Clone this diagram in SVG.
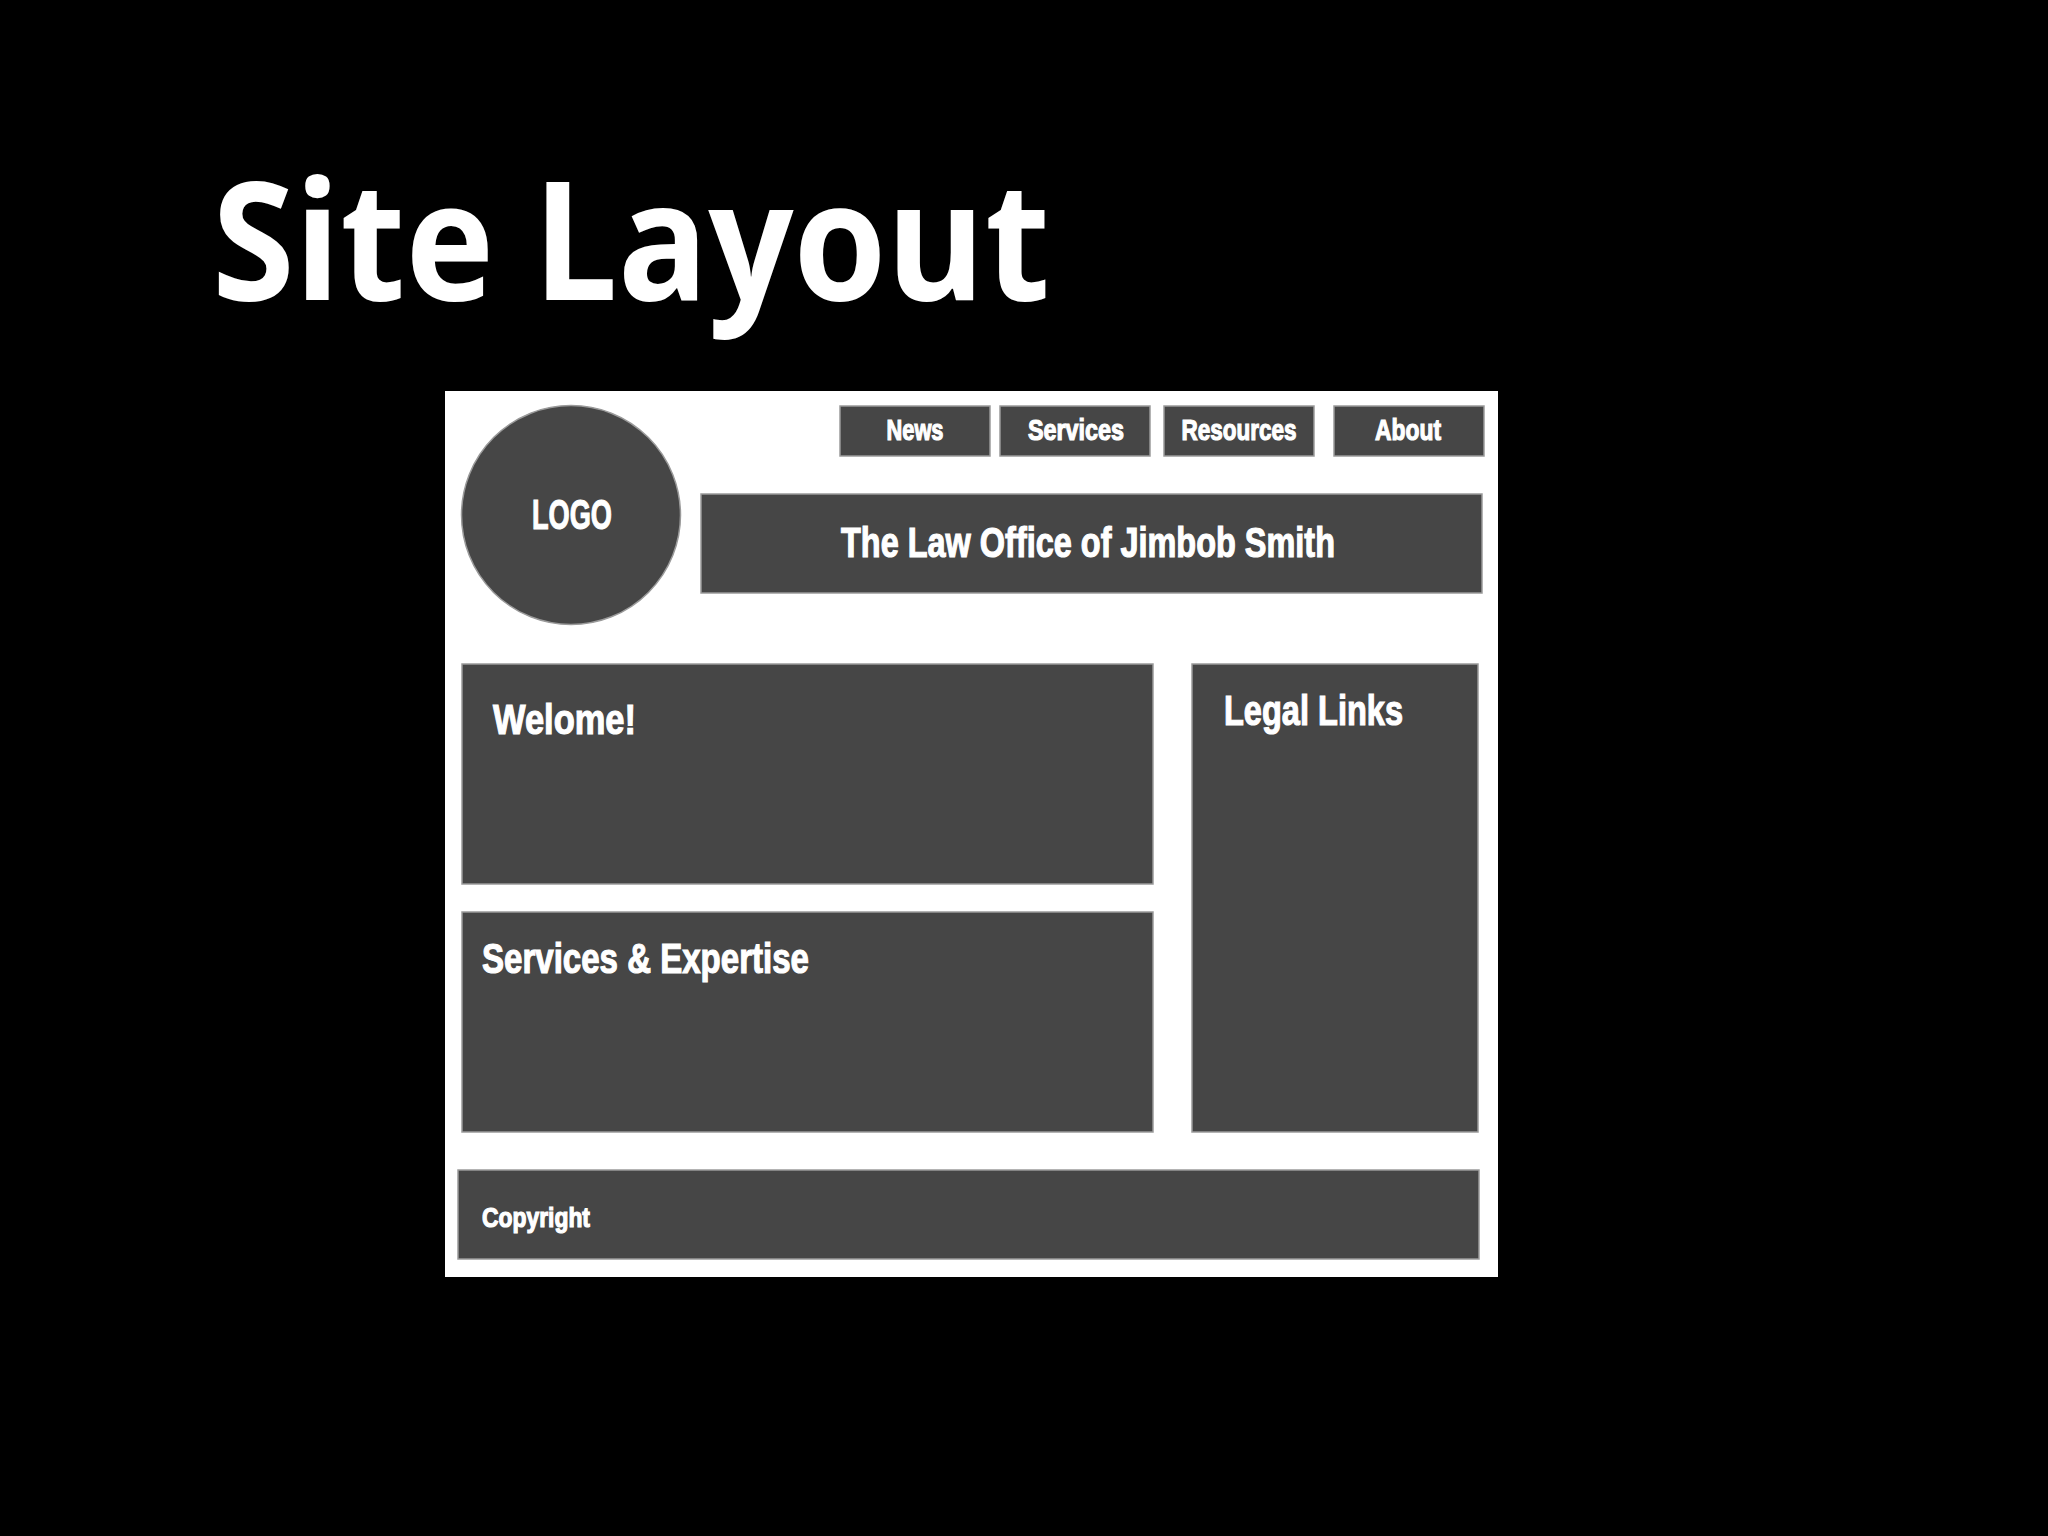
<svg xmlns="http://www.w3.org/2000/svg" width="2048" height="1536" viewBox="0 0 2048 1536">
<style>
.box{fill:#464646;stroke:#9a9a9a;stroke-width:1.5}
.lbl{fill:#ffffff;stroke:#ffffff;stroke-width:1.2;font-family:"Liberation Sans Narrow","Liberation Sans","DejaVu Sans Condensed",sans-serif;font-weight:bold}
.title{fill:#ffffff;font-family:"Open Sans","DejaVu Sans",sans-serif;font-weight:bold}
</style>
<rect x="0" y="0" width="2048" height="1536" fill="#000000"/>
<text class="title" x="212" y="300" font-size="165" textLength="838" lengthAdjust="spacingAndGlyphs">Site Layout</text>
<g id="page">
<rect x="445" y="391" width="1053" height="886" fill="#ffffff"/>
</g>
<g id="logo">
<circle cx="571" cy="515" r="109.5" class="box"/>
<text class="lbl" x="572" y="529" font-size="43" text-anchor="middle" textLength="80" lengthAdjust="spacingAndGlyphs">LOGO</text>
</g>
<g id="nav-news">
<rect x="840" y="406" width="150" height="50" class="box"/>
<text class="lbl" x="915" y="440" font-size="29" text-anchor="middle" textLength="57" lengthAdjust="spacingAndGlyphs">News</text>
</g>
<g id="nav-services">
<rect x="1000" y="406" width="150" height="50" class="box"/>
<text class="lbl" x="1076" y="440" font-size="29" text-anchor="middle" textLength="96" lengthAdjust="spacingAndGlyphs">Services</text>
</g>
<g id="nav-resources">
<rect x="1164" y="406" width="150" height="50" class="box"/>
<text class="lbl" x="1239" y="440" font-size="29" text-anchor="middle" textLength="115" lengthAdjust="spacingAndGlyphs">Resources</text>
</g>
<g id="nav-about">
<rect x="1334" y="406" width="150" height="50" class="box"/>
<text class="lbl" x="1408" y="440" font-size="29" text-anchor="middle" textLength="66" lengthAdjust="spacingAndGlyphs">About</text>
</g>
<g id="header">
<rect x="701" y="494" width="781" height="99" class="box"/>
<text class="lbl" x="841" y="557" font-size="42" textLength="494" lengthAdjust="spacingAndGlyphs">The Law Office of Jimbob Smith</text>
</g>
<g id="welcome">
<rect x="462" y="664" width="691" height="220" class="box"/>
<text class="lbl" x="493" y="734" font-size="43" textLength="143" lengthAdjust="spacingAndGlyphs">Welome!</text>
</g>
<g id="services">
<rect x="462" y="912" width="691" height="220" class="box"/>
<text class="lbl" x="482" y="973" font-size="43" textLength="327" lengthAdjust="spacingAndGlyphs">Services &amp; Expertise</text>
</g>
<g id="legal-links">
<rect x="1192" y="664" width="286" height="468" class="box"/>
<text class="lbl" x="1224" y="725" font-size="42" textLength="179" lengthAdjust="spacingAndGlyphs">Legal Links</text>
</g>
<g id="footer">
<rect x="458" y="1170" width="1021" height="89" class="box"/>
<text class="lbl" x="482" y="1227" font-size="27" textLength="108" lengthAdjust="spacingAndGlyphs">Copyright</text>
</g>
<g id="connectors"/>
</svg>
